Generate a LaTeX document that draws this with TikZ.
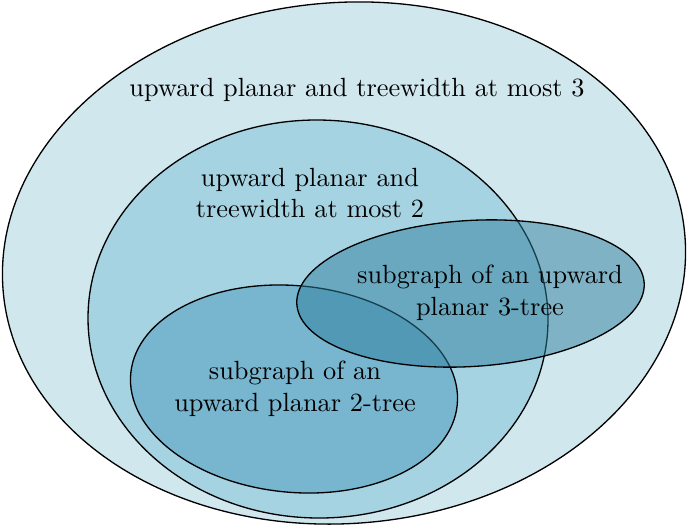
\documentclass[tikz,border=0pt]{standalone}
\begin{document}
\begin{tikzpicture}[x=0.38pt,y=-0.38pt,
  region/.style={draw=black,line width=0.5pt},
  lbl/.style={align=center,inner sep=0pt,font=\normalsize}]
\definecolor{tw3}{HTML}{D1E7EE}
\definecolor{tw2}{HTML}{A6D3E2}
\definecolor{twotree}{HTML}{78B5CF}
\definecolor{threetree}{RGB}{45,127,156}
\useasboundingbox (0,0) rectangle (687,525);
% treewidth <= 3
\path[region,fill=tw3,rotate around={4.5:(344,263)}] (344,263) ellipse (342 and 260.5);
% treewidth <= 2
\path[region,fill=tw2,rotate around={-1:(318,319)}] (318,319) ellipse (230 and 199);
% upward planar 2-trees
\path[region,fill=twotree,rotate around={-5.5:(294,389)}] (294,389) ellipse (164 and 103.3);
% upward planar 3-trees (translucent)
\path[region,fill=threetree,fill opacity=0.5,rotate around={3.5:(470.5,293.5)}] (470.5,293.5) ellipse (174 and 73);
\node[lbl] (t3) at (357,90) {upward planar and treewidth at most 3};
\node[lbl] (t2) at (310,193) {upward planar and\\treewidth at most 2};
\node[lbl] (s3) at (490,293) {subgraph of an upward\\planar 3-tree};
\node[lbl] (s2) at (295,389) {subgraph of an\\upward planar 2-tree};
\end{tikzpicture}
\end{document}
